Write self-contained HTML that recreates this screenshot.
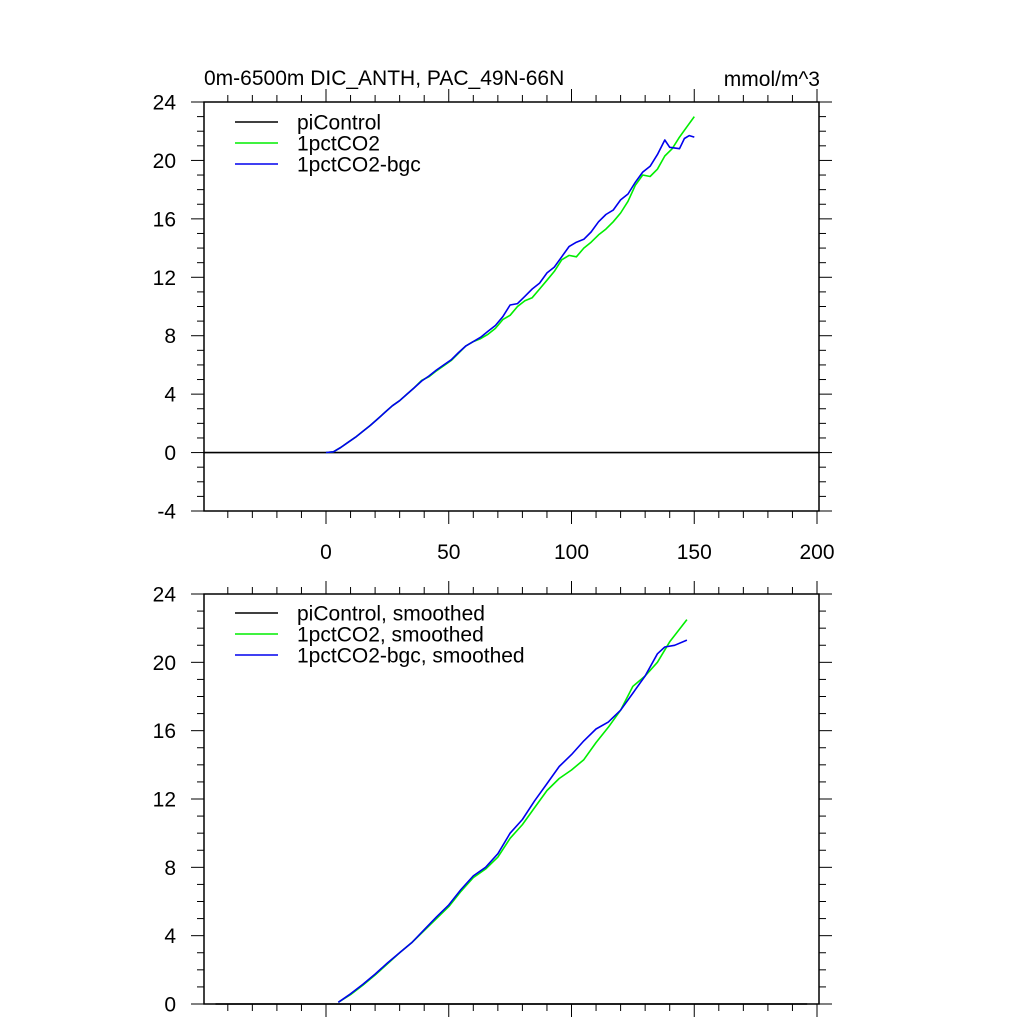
<!DOCTYPE html>
<html><head><meta charset="utf-8"><style>
html,body{margin:0;padding:0;background:#fff;}
svg{display:block;font-family:"Liberation Sans",sans-serif;}
</style></head><body>
<svg id="chart" width="1024" height="1024" viewBox="0 0 1024 1024" xmlns="http://www.w3.org/2000/svg">
<text x="204" y="85" font-size="21">0m-6500m DIC_ANTH, PAC_49N-66N</text>
<text x="820" y="86" font-size="21" text-anchor="end">mmol/m^3</text>
<g id="top"></g>
<g id="bot"></g>
</svg>
<script>
// ---- data ----
const ctlYears = [-50, 201];
const ctlValues = [0, 0];
const ctlSmYears = [-45, 196];
const ctlSmValues = [0, 0];
const rawYears = [0,3,6,9,12,15,18,21,24,27,30,33,36,39,42,45,48,51,54,57,60,63,66,69,72,75,78,81,84,87,90,93,96,99,102,105,108,111,114,117,120,123,126,129,132,135,138,141,144,147,150];
const greenRaw = [0,0.05,0.35,0.7,1.05,1.45,1.85,2.3,2.75,3.2,3.55,4.0,4.45,4.95,5.2,5.6,5.95,6.3,6.8,7.3,7.6,7.8,8.1,8.5,9.1,9.4,10.0,10.4,10.6,11.2,11.8,12.4,13.2,13.5,13.4,14.0,14.4,14.9,15.3,15.8,16.4,17.2,18.3,19.0,18.9,19.4,20.3,20.8,21.6,22.3,23.0];
const blueYears = [0,3,6,9,12,15,18,21,24,27,30,33,36,39,42,45,48,51,54,57,60,63,66,69,72,75,78,81,84,87,90,93,96,99,102,105,108,111,114,117,120,123,126,129,132,135,138,140,144,146,148,150];
const blueRaw = [0,0.05,0.35,0.7,1.05,1.45,1.85,2.3,2.75,3.2,3.55,4.0,4.45,4.9,5.25,5.65,6.0,6.35,6.85,7.3,7.6,7.9,8.3,8.7,9.3,10.1,10.2,10.7,11.2,11.6,12.3,12.7,13.4,14.1,14.4,14.6,15.1,15.8,16.3,16.6,17.3,17.7,18.5,19.2,19.6,20.4,21.4,20.9,20.8,21.5,21.7,21.6];
const smGreenYears = [5,10,15,20,25,30,35,40,45,50,55,60,65,70,75,80,85,90,95,100,105,110,115,120,125,130,135,140,147];
const smGreen = [0.1,0.55,1.1,1.7,2.35,3.0,3.6,4.3,5.0,5.7,6.6,7.4,7.9,8.6,9.7,10.5,11.5,12.5,13.2,13.7,14.3,15.3,16.2,17.2,18.6,19.2,20.0,21.2,22.5];
const smBlueYears = [5,10,15,20,25,30,35,40,45,50,55,60,65,70,75,80,85,90,95,100,105,110,115,120,125,130,135,138,142,147];
const smBlue = [0.1,0.6,1.15,1.75,2.4,3.0,3.6,4.35,5.1,5.8,6.7,7.5,8.0,8.8,10.0,10.8,11.9,12.9,13.9,14.6,15.4,16.1,16.5,17.2,18.2,19.2,20.5,20.9,21.0,21.3];
const xTickLabels = [0,50,100,150,200];
const topYTicks = [-4,0,4,8,12,16,20,24];
const botYTicks = [0,4,8,12,16,20,24];
const topLegend = ["piControl","1pctCO2","1pctCO2-bgc"];
const botLegend = ["piControl, smoothed","1pctCO2, smoothed","1pctCO2-bgc, smoothed"];

const NS="http://www.w3.org/2000/svg";
function mk(tag, attrs, parent){const e=document.createElementNS(NS,tag);for(const k in attrs)e.setAttribute(k,attrs[k]);parent.appendChild(e);return e;}
const X0=204, X1=819;
const sx = v => 326 + (v-0)*(817-326)/200;

function panel(g, top, bottom, ymin, ymax, yticks, showXLabels, series, legend, legY){
  const sy = v => bottom - (v-ymin)*(bottom-top)/(ymax-ymin);
  for(let v=ymin; v<=ymax; v++){
    const major = yticks.includes(v);
    const L = major?13:7;
    const t1=mk('line',{x1:X0-L,x2:X0,y1:sy(v),y2:sy(v),stroke:'#000','stroke-width':1},g);
    
    
    const t2=mk('line',{x1:X1,x2:X1+L,y1:sy(v),y2:sy(v),stroke:'#000','stroke-width':1},g);
    
    
  }
  yticks.forEach(v=>{
    const t=mk('text',{x:176,y:sy(v)+7.5,'font-size':21,'text-anchor':'end'},g);
    t.textContent=v;
    
    
  });
  for(let v=-40; v<=200; v+=10){
    const major = v%50===0;
    const L = major?13:7;
    const b=mk('line',{x1:sx(v),x2:sx(v),y1:bottom,y2:bottom+L,stroke:'#000','stroke-width':1},g);
    
    
    const tp=mk('line',{x1:sx(v),x2:sx(v),y1:top-L,y2:top,stroke:'#000','stroke-width':1},g);
    
    
  }
  if(showXLabels){
    xTickLabels.forEach(v=>{
      const t=mk('text',{x:sx(v),y:559,'font-size':21,'text-anchor':'middle'},g);
      t.textContent=v;
      
      
    });
  }
  const fr=mk('rect',{x:X0,y:top,width:X1-X0,height:bottom-top,fill:'none',stroke:'#000','stroke-width':1.5},g);
  
  
  series.forEach(s=>{
    const d=s.xs.map((x,i)=>(i?'L':'M')+sx(x).toFixed(1)+','+sy(s.ys[i]).toFixed(1)).join(' ');
    const p=mk('path',{d:d,fill:'none',stroke:s.color,'stroke-width':1.6,'stroke-linejoin':'round'},g);
    
    
  });
  const cols=['#000','#00ee00','#0000ee'];
  legend.forEach((lab,i)=>{
    const y=legY+i*21;
    const l=mk('line',{x1:235,x2:278,y1:y,y2:y,stroke:cols[i],'stroke-width':1.5},g);
    
    
    const t=mk('text',{x:297,y:y+7.5,'font-size':21},g);
    t.textContent=lab;
    
    
  });
}
panel(document.getElementById('top'),102,511,-4,24,topYTicks,true,[
  {xs:ctlYears,ys:ctlValues,color:'#000',name:'picontrol-line'},
  {xs:rawYears,ys:greenRaw,color:'#00ee00',name:'1pctco2-line'},
  {xs:blueYears,ys:blueRaw,color:'#0000ee',name:'1pctco2-bgc-line'}
],topLegend,122);
panel(document.getElementById('bot'),594,1004,0,24,botYTicks,false,[
  {xs:ctlSmYears,ys:ctlSmValues,color:'#000',name:'picontrol-smoothed-line'},
  {xs:smGreenYears,ys:smGreen,color:'#00ee00',name:'1pctco2-smoothed-line'},
  {xs:smBlueYears,ys:smBlue,color:'#0000ee',name:'1pctco2-bgc-smoothed-line'}
],botLegend,613);
</script>
</body></html>
